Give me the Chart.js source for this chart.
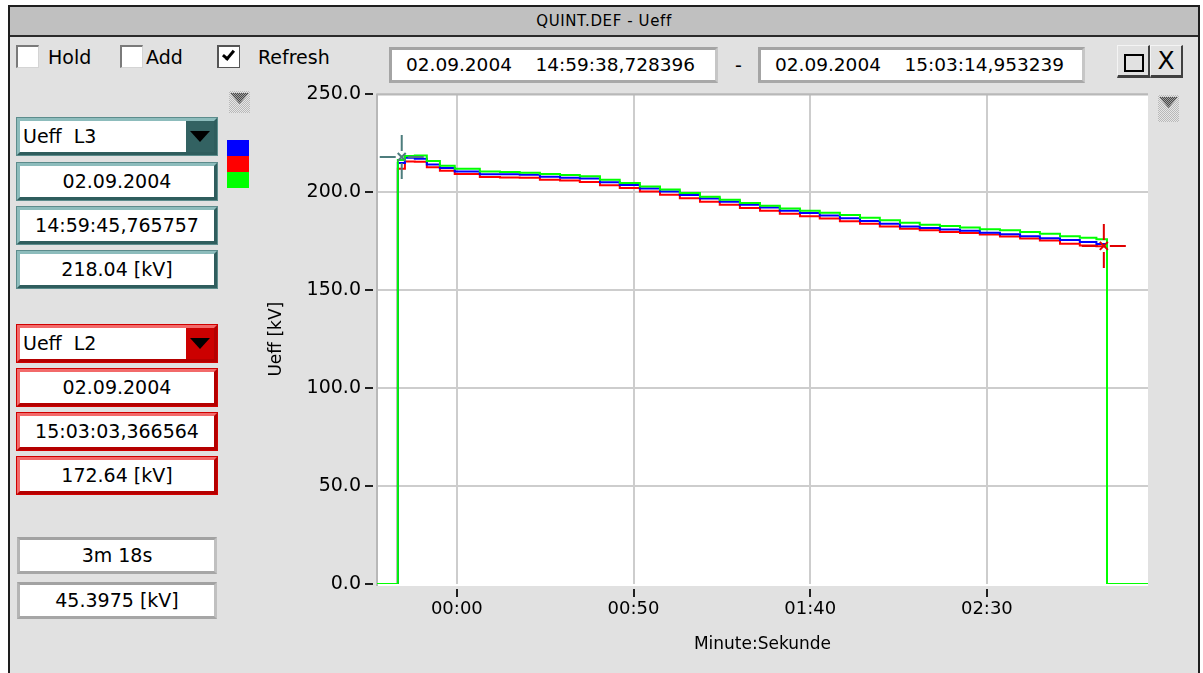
<!DOCTYPE html>
<html>
<head>
<meta charset="utf-8">
<script src="https://cdn.jsdelivr.net/npm/chart.js@4.4.1/dist/chart.umd.min.js"></script>
<style>
  body { margin: 0; width: 1203px; height: 673px; background: #fff; overflow: hidden; position: relative;
         font-family: "DejaVu Sans", sans-serif; color: #000; }
  .abs { position: absolute; box-sizing: border-box; }
  .win { left: 8px; top: 5px; width: 1192px; height: 700px; border: 2px solid #1e1e1e; background: #e1e1e1; }
  .titlebar { left: 10px; top: 7px; width: 1188px; height: 30px; background: #c0c0c0; border-bottom: 2px solid #2a2a2a;
              text-align: center; font-size: 15px; line-height: 28px; letter-spacing: 0.6px; }
  .cb { width: 23px; height: 23px; top: 45px; background: #fff; border-top: 2px solid #7a7a7a; border-left: 2px solid #7a7a7a;
        border-right: 1px solid #d4d4d4; border-bottom: 1px solid #d4d4d4; }
  .lbl { top: 44px; height: 26px; line-height: 26px; font-size: 19px; white-space: pre; }
  .check { left: 225px; top: 48px; width: 7px; height: 12px; border-right: 3px solid #000; border-bottom: 3px solid #000;
           transform: rotate(40deg); }
  .datebox { top: 47px; height: 36px; background: #fff; font-size: 18.5px; line-height: 30px; padding-left: 14px; white-space: pre;
             border: 3px solid; border-color: #a4a4a4 #c6c6c6 #a8a8a8 #a4a4a4; }
  .btn { top: 45px; width: 33px; height: 33px; border-right: 2px solid #404040; border-bottom: 3px solid #404040;
         border-top: 1px solid #f4f4f4; border-left: 1px solid #f4f4f4; }
  .sq { left: 6px; top: 8px; width: 20px; height: 18px; border: 2px solid #000; }
  .xg { width: 100%; text-align: center; font-size: 25px; line-height: 30px; }
  .tbox { left: 17px; width: 200px; height: 37px; background: #fff; font-size: 19px; line-height: 31px; text-align: center;
          white-space: pre; border: 3px solid; }
  .teal { border-color: #8dbcbc #2f5d5d #2f5d5d #8dbcbc; box-shadow: 0 0 0 1px #5c8c8c; }
  .red { border-color: #f26a6a #b40000 #b40000 #f26a6a; box-shadow: 0 0 0 1px #d00000; }
  .grey { border-color: #a2a2a2 #c0c0c0 #a6a6a6 #b4b4b4; }
  .dd { text-align: left; padding-left: 3px; }
  .ddbtn { right: 0; top: 0; width: 28px; height: 31px; }
  .ddbtn::after { content: ""; position: absolute; left: 4px; top: 10px; border-left: 10px solid transparent;
                  border-right: 10px solid transparent; border-top: 11px solid #000; }
  .swatch { left: 227px; width: 22px; height: 16px; }
  .icon { width: 21px; height: 22px;
          background: repeating-conic-gradient(#b8b8b8 0 25%, #e6e6e6 0 50%) 0 0 / 2px 2px; }
  .icon::before { content: ""; position: absolute; left: 1px; top: 2px; width: 19px; height: 11px;
                  clip-path: polygon(0 0, 100% 0, 50% 100%);
                  background: repeating-conic-gradient(#4a4a4a 0 25%, #a0a0a0 0 50%) 0 0 / 2px 2px; }
  #chartBox { position: absolute; left: 250px; top: 67px; width: 910px; height: 598px; }
</style>
</head>
<body>
<div class="abs win"></div>
<div class="abs titlebar">QUINT.DEF - Ueff</div>

<div class="abs cb" style="left:16px"></div>
<div class="abs lbl" style="left:48px">Hold</div>
<div class="abs cb" style="left:120px"></div>
<div class="abs lbl" style="left:146px">Add</div>
<div class="abs cb" style="left:217px;border-color:#555;"></div>
<div class="abs check"></div>
<div class="abs lbl" style="left:258px">Refresh</div>

<div class="abs datebox" style="left:389px;width:329px">02.09.2004    14:59:38,728396</div>
<div class="abs lbl" style="left:735px;top:52px">-</div>
<div class="abs datebox" style="left:758px;width:327px">02.09.2004    15:03:14,953239</div>
<div class="abs btn" style="left:1117px"><div class="abs sq"></div></div>
<div class="abs btn" style="left:1150px"><div class="xg">X</div></div>

<div class="abs icon" style="left:229px;top:91px"></div>
<div class="abs icon" style="left:1158px;top:95px;height:27px"></div>

<div class="abs tbox teal dd" style="top:118px">Ueff  L3<div class="abs ddbtn" style="background:#336262"></div></div>
<div class="abs tbox teal" style="top:163px">02.09.2004</div>
<div class="abs tbox teal" style="top:207px">14:59:45,765757</div>
<div class="abs tbox teal" style="top:251px">218.04 [kV]</div>

<div class="abs swatch" style="top:140px;background:#0000ff"></div>
<div class="abs swatch" style="top:156px;background:#ff0000"></div>
<div class="abs swatch" style="top:172px;background:#00ff00"></div>

<div class="abs tbox red dd" style="top:325px">Ueff  L2<div class="abs ddbtn" style="background:#cc0000"></div></div>
<div class="abs tbox red" style="top:369px">02.09.2004</div>
<div class="abs tbox red" style="top:413px">15:03:03,366564</div>
<div class="abs tbox red" style="top:457px">172.64 [kV]</div>

<div class="abs tbox grey" style="top:537px">3m 18s</div>
<div class="abs tbox grey" style="top:582px">45.3975 [kV]</div>

<div id="chartBox"><canvas id="ueffChart"></canvas></div>

<script>
// time in seconds relative to the 00:00 mark
const secs = [-22.6, -16.7, -14.7, -11.9, -8.5, -4.8, -0.6, 6.5, 12.2, 17.8,
  23.5, 29.2, 34.8, 40.5, 46.1, 51.8, 57.5, 63.1, 68.8, 74.4,
  80.1, 85.8, 91.4, 97.1, 102.7, 108.4, 114.1, 119.7, 125.4, 131.0,
  136.7, 142.4, 148.0, 153.7, 159.4, 165.0, 170.7, 176.3, 181.0, 184.0, 195.6];

const ueffBlue = [0, 215.0, 217.6, 217.2, 214.2, 212.4, 210.6, 209.2, 209.2, 209.0,
  208.0, 207.5, 207.0, 205.2, 203.8, 202.0, 200.4, 198.6, 196.8, 195.2,
  193.6, 192.2, 190.6, 189.4, 188.2, 186.8, 185.4, 184.0, 182.6, 181.8,
  181.0, 180.4, 179.4, 178.6, 177.6, 176.6, 175.6, 174.6, 173.6, 0, 0];

const ueffRed = [0, 212.0, 215.8, 215.6, 212.8, 211.0, 209.4, 207.8, 207.6, 207.5,
  206.4, 206.0, 205.3, 203.6, 202.2, 200.4, 198.8, 197.0, 195.2, 193.6,
  192.0, 190.6, 189.0, 187.8, 186.6, 185.2, 184.0, 182.6, 181.4, 180.6,
  179.8, 179.2, 178.4, 177.4, 176.4, 175.4, 173.8, 172.8, 172.4, 0, 0];

const ueffGreen = [0, 216.5, 218.6, 218.8, 216.0, 213.6, 212.0, 210.6, 210.4, 210.0,
  209.4, 208.8, 208.2, 206.4, 204.8, 203.0, 201.4, 199.6, 197.8, 196.2,
  194.6, 193.2, 191.8, 190.6, 189.6, 188.4, 187.0, 185.8, 184.4, 183.4,
  182.8, 182.0, 181.2, 180.6, 179.8, 178.8, 177.6, 176.8, 176.0, 0, 0];

const xTickSecs = [0, 50, 100, 150];
const yTickValues = [0, 50, 100, 150, 200, 250];

// measurement cursors (seconds, kV)
const cursorSecs = [-15.6, 183.1];
const cursorValues = [218.04, 172.64];

const toPoints = vals => vals.map((v, i) => ({ x: secs[i], y: v }));
const mmss = v => String(Math.floor(v / 60)).padStart(2, '0') + ':' + String(v % 60).padStart(2, '0');

const plotDeco = {
  id: 'plotDeco',
  beforeDraw(chart) {
    const { ctx, chartArea: a } = chart;
    ctx.save();
    ctx.fillStyle = '#ffffff';
    ctx.fillRect(a.left, a.top - 1, a.right - a.left, a.bottom - a.top + 3);
    ctx.restore();
  },
  beforeDatasetsDraw(chart) {
    const { ctx, chartArea: a } = chart;
    ctx.save();
    ctx.strokeStyle = '#b8b8b8';
    ctx.lineWidth = 2;
    ctx.beginPath();
    ctx.moveTo(a.left, a.bottom + 2);
    ctx.lineTo(a.left, a.top);
    ctx.lineTo(a.right, a.top);
    ctx.stroke();
    ctx.restore();
  },
  afterDraw(chart) {
    const { ctx, chartArea: a, scales: { x, y } } = chart;
    ctx.save();
    ctx.strokeStyle = '#202020';
    ctx.lineWidth = 2;
    y.ticks.forEach(t => {
      const py = Math.round(y.getPixelForValue(t.value));
      ctx.beginPath(); ctx.moveTo(a.left - 12, py); ctx.lineTo(a.left - 4, py); ctx.stroke();
    });
    x.ticks.forEach(t => {
      const px = Math.round(x.getPixelForValue(t.value));
      ctx.beginPath(); ctx.moveTo(px, a.bottom + 5); ctx.lineTo(px, a.bottom + 13); ctx.stroke();
    });
    cursorSecs.forEach((s, i) => {
      const px = x.getPixelForValue(s), py = y.getPixelForValue(cursorValues[i]);
      ctx.strokeStyle = i === 0 ? '#4d7d7d' : '#e00000';
      ctx.beginPath();
      [[0, -1], [0, 1], [-1, 0], [1, 0]].forEach(([dx, dy]) => {
        ctx.moveTo(px + dx * 6, py + dy * 6);
        ctx.lineTo(px + dx * 22, py + dy * 22);
      });
      ctx.moveTo(px - 4, py - 4); ctx.lineTo(px + 4, py + 4);
      ctx.moveTo(px + 4, py - 4); ctx.lineTo(px - 4, py + 4);
      ctx.stroke();
    });
    ctx.restore();
  }
};

Chart.defaults.font.family = '"DejaVu Sans", sans-serif';
Chart.defaults.color = '#000';

const ueffChart = new Chart(document.querySelector('#ueffChart'), {
  type: 'line',
  data: {
    datasets: [
      { label: 'green', data: toPoints(ueffGreen), borderColor: '#00ff00', borderWidth: 2, pointRadius: 0, stepped: true, fill: false },
      { label: 'blue', data: toPoints(ueffBlue), borderColor: '#0000ff', borderWidth: 2, pointRadius: 0, stepped: true, fill: false },
      { label: 'red', data: toPoints(ueffRed), borderColor: '#ff0000', borderWidth: 2, pointRadius: 0, stepped: true, fill: false },
    ],
  },
  options: {
    responsive: true,
    maintainAspectRatio: false,
    animation: false,
    layout: { padding: { top: 10, right: 12, left: 0, bottom: 0 } },
    plugins: {
      legend: { display: false },
      tooltip: { enabled: false },
    },
    scales: {
      x: {
        type: 'linear',
        min: -22.6,
        max: 195.6,
        afterBuildTicks: s => { s.ticks = xTickSecs.map(v => ({ value: v })); },
        afterFit: s => { s.height = 81; },
        grid: { color: '#cdcdcd', lineWidth: 2, drawTicks: false },
        border: { display: false },
        ticks: { padding: 15, font: { size: 18 }, maxRotation: 0, autoSkip: false, callback: v => mmss(v) },
        title: { display: true, text: 'Minute:Sekunde', font: { size: 17 }, padding: 10 },
      },
      y: {
        min: 0,
        max: 250,
        afterBuildTicks: s => { s.ticks = yTickValues.map(v => ({ value: v })); },
        afterFit: s => { s.width = 127; },
        grid: {
          color: c => (c.tick && c.tick.value === 0 ? 'rgba(0,0,0,0)' : '#cdcdcd'),
          lineWidth: 2,
          drawTicks: false,
        },
        border: { display: false },
        ticks: { padding: 16, font: { size: 19 }, callback: v => v.toFixed(1) },
        title: { display: true, text: 'Ueff [kV]', font: { size: 17 }, padding: 16 },
      },
    },
  },
  plugins: [plotDeco],
});
</script>
</body>
</html>
